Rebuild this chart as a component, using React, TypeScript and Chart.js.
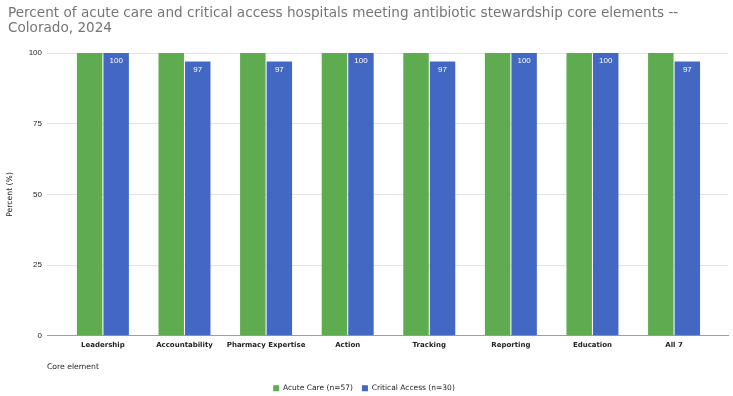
import React, { useEffect, useRef } from "react";
import { Chart, registerables } from "chart.js";

Chart.register(...registerables);

const categories = [
  "Leadership",
  "Accountability",
  "Pharmacy Expertise",
  "Action",
  "Tracking",
  "Reporting",
  "Education",
  "All 7",
];
const acuteCare = [100, 100, 100, 100, 100, 100, 100, 100];
const criticalAccess = [100, 97, 97, 100, 97, 100, 100, 97];
const yTicks = [0, 25, 50, 75, 100];
const titleLines = [
  "Percent of acute care and critical access hospitals meeting antibiotic stewardship core elements --",
  "Colorado, 2024",
];
const seriesNames = ["Acute Care (n=57)", "Critical Access (n=30)"];

const GREEN = "#5fab4f";
const BLUE = "#4268c3";
const TITLE_SIZE = 13.6;
const TITLE_LH = 15.5;
const TITLE_PAD_TOP = 5.5;

const valueLabels = {
  id: "valueLabels",
  afterDatasetsDraw(chart: any) {
    const ctx = chart.ctx;
    const meta = chart.getDatasetMeta(1);
    ctx.save();
    ctx.fillStyle = "#ffffff";
    ctx.font = "8px 'Liberation Sans', Arial, sans-serif";
    ctx.textAlign = "center";
    ctx.textBaseline = "middle";
    meta.data.forEach((el: any, i: number) => {
      ctx.fillText(String(criticalAccess[i]), el.x, el.y + 8);
    });
    ctx.restore();
  },
};

const leftTitle = {
  id: "leftTitle",
  afterDraw(chart: any) {
    const ctx = chart.ctx;
    const top = chart.titleBlock ? chart.titleBlock.top : 0;
    ctx.save();
    ctx.fillStyle = "#757575";
    ctx.font = `${TITLE_SIZE}px 'DejaVu Sans', sans-serif`;
    ctx.textAlign = "left";
    ctx.textBaseline = "middle";
    titleLines.forEach((line, i) => {
      ctx.fillText(line, 8, top + TITLE_PAD_TOP + TITLE_LH * (i + 0.5));
    });
    ctx.restore();
  },
};

export default function App() {
  const ref = useRef<HTMLCanvasElement | null>(null);
  useEffect(() => {
    document.body.style.margin = "0";
    const chart = new Chart(ref.current as HTMLCanvasElement, {
      type: "bar",
      data: {
        datasets: [
          {
            label: seriesNames[0],
            data: acuteCare.map((v, i) => ({ x: i, y: v })),
            backgroundColor: GREEN,
            categoryPercentage: 0.65,
            barPercentage: 0.96,
          },
          {
            label: seriesNames[1],
            data: criticalAccess.map((v, i) => ({ x: i, y: v })),
            backgroundColor: BLUE,
            categoryPercentage: 0.65,
            barPercentage: 0.96,
          },
        ] as any,
      },
      plugins: [valueLabels, leftTitle],
      options: {
        responsive: true,
        maintainAspectRatio: false,
        animation: false,
        layout: { padding: { left: 0, right: 5, top: 0, bottom: -6 } },
        plugins: {
          title: {
            display: true,
            text: titleLines,
            align: "start",
            color: "rgba(0,0,0,0)",
            font: { family: "'DejaVu Sans', sans-serif", size: TITLE_SIZE, weight: "normal", lineHeight: TITLE_LH / TITLE_SIZE },
            padding: { top: TITLE_PAD_TOP, bottom: 16.5 },
          },
          legend: {
            position: "bottom",
            labels: {
              boxWidth: 6,
              boxHeight: 6,
              padding: 9,
              color: "#222",
              font: { family: "'DejaVu Sans', sans-serif", size: 7.5 },
            },
          },
          tooltip: { enabled: false },
        },
        scales: {
          x: {
            type: "linear",
            min: -0.685,
            max: 7.661,
            offset: false,
            grid: { display: false, drawTicks: false },
            border: { display: true, color: "#9e9e9e", width: 1 },
            afterBuildTicks: (scale: any) => {
              scale.ticks = categories.map((_, i) => ({ value: i }));
            },
            ticks: {
              autoSkip: false,
              maxRotation: 0,
              padding: 5,
              color: "#222",
              font: { family: "'DejaVu Sans', sans-serif", size: 7, weight: "bold" },
              callback: (v: any) => categories[v as number],
            },
            title: {
              display: true,
              text: "Core element",
              align: "start",
              color: "#222",
              font: { family: "'DejaVu Sans', sans-serif", size: 7.7 },
              padding: { top: 8, bottom: 4 },
            },
          },
          y: {
            min: 0,
            max: 100,
            afterBuildTicks: (scale: any) => {
              scale.ticks = yTicks.map((v) => ({ value: v }));
            },
            afterFit: (scale: any) => {
              scale.width = 47;
            },
            grid: {
              drawTicks: false,
              color: (c: any) => (c.tick && c.tick.value === 0 ? "rgba(0,0,0,0)" : "#e3e3e3"),
            },
            border: { display: false },
            ticks: {
              padding: 5,
              color: "#222",
              font: { family: "'Liberation Sans', Arial, sans-serif", size: 8 },
            },
            title: {
              display: true,
              text: "Percent (%)",
              color: "#222",
              font: { family: "'DejaVu Sans', sans-serif", size: 7.7 },
              padding: { top: 5, bottom: 0 },
            },
          },
        },
      } as any,
    });
    return () => chart.destroy();
  }, []);
  return (
    <div style={{ position: "fixed", left: 0, top: 0, width: 733, height: 396 }}>
      <canvas ref={ref} />
    </div>
  );
}
